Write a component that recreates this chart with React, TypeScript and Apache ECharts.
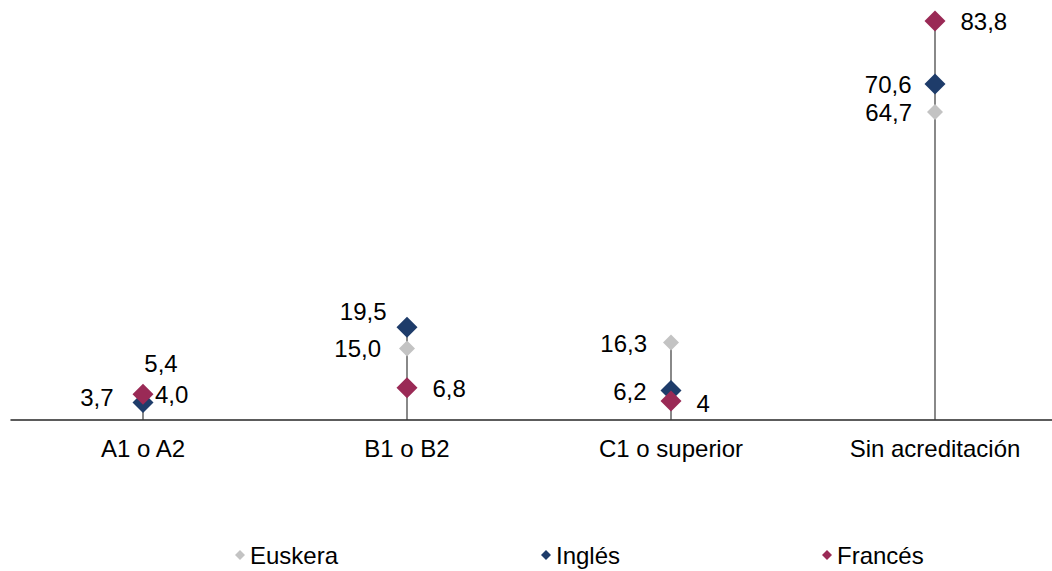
import React, { useEffect, useRef } from "react";
import * as echarts from "echarts";

const categories = ["A1 o A2", "B1 o B2", "C1 o superior", "Sin acreditación"];
const seriesNames = ["Euskera", "Inglés", "Francés"];
const euskera = [4.0, 15.0, 16.3, 64.7];
const ingles = [3.7, 19.5, 6.2, 70.6];
const frances = [5.4, 6.8, 4, 83.8];
const euskeraLabels = ["4,0", "15,0", "16,3", "64,7"];
const inglesLabels = ["3,7", "19,5", "6,2", "70,6"];
const francesLabels = ["5,4", "6,8", "4", "83,8"];

const colors = ["#C3C3C3", "#1E3C6A", "#9A2A56"];
const symbolSizes = [16, 21, 21];

// label placement: [position, distance, dx, dy]
const euskeraPlace: [string, number, number, number][] = [
  ["right", 4, 0, -6],
  ["left", 18, 0, 0],
  ["left", 16, 0, 1],
  ["left", 15, 0, 0],
];
const inglesPlace: [string, number, number, number][] = [
  ["left", 19, 0, -5],
  ["left", 10, 0, -16],
  ["left", 14, 0, 1],
  ["left", 13, 0, 1],
];
const francesPlace: [string, number, number, number][] = [
  ["top", 8, 18, 0],
  ["right", 15, 0, 1],
  ["right", 15, 0, 3],
  ["right", 15, 0, 0],
];

const FONT = "'Liberation Sans', Arial, sans-serif";

export default function App() {
  const ref = useRef<HTMLDivElement>(null);
  useEffect(() => {
    if (!ref.current) return;
    const chart = echarts.init(ref.current, null, { renderer: "svg" });
    const values = [euskera, ingles, frances];
    const labels = [euskeraLabels, inglesLabels, francesLabels];
    const places = [euskeraPlace, inglesPlace, francesPlace];
    const maxes = categories.map((_, i) => Math.max(euskera[i], ingles[i], frances[i]));

    const scatterSeries = seriesNames.map((name, s) => ({
      name,
      type: "scatter",
      symbol: "diamond",
      symbolSize: symbolSizes[s],
      itemStyle: { color: colors[s], opacity: 1 },
      z: 3 + s,
      data: values[s].map((v, i) => {
        const [pos, dist, dx, dy] = places[s][i];
        return {
          value: v,
          label: {
            show: true,
            position: pos,
            distance: dist,
            offset: [dx, dy],
            formatter: labels[s][i],
            fontSize: 24,
            fontFamily: FONT,
            color: "#000",
          },
        };
      }),
    }));

    const legendX = [235, 541, 822];

    chart.setOption({
      animation: false,
      backgroundColor: "#fff",
      grid: { left: 11, width: 1056, top: 15.4, height: 404.6 },
      xAxis: {
        type: "category",
        data: categories,
        axisLine: { lineStyle: { color: "#262626", width: 1.5 } },
        axisTick: { show: false },
        axisLabel: { fontSize: 24, fontFamily: FONT, color: "#000", margin: 16 },
        splitLine: { show: false },
      },
      yAxis: {
        type: "value",
        min: 0,
        max: 85,
        show: false,
        splitLine: { show: false },
      },
      legend: seriesNames.map((name, s) => ({
        data: [{ name, icon: "diamond" }],
        left: legendX[s],
        top: 543,
        padding: 0,
        itemWidth: 10,
        itemHeight: 10,
        textStyle: { fontSize: 24, fontFamily: FONT, color: "#000" },
      })),
      series: [
        {
          type: "custom",
          name: "lines",
          z: 1,
          silent: true,
          data: maxes.map((m, i) => [i, m]),
          renderItem: (params: any, api: any) => {
            const i = api.value(0);
            const p0 = api.coord([i, 0]);
            const p1 = api.coord([i, api.value(1)]);
            return {
              type: "line",
              shape: { x1: p0[0], y1: p0[1], x2: p1[0], y2: p1[1] },
              style: { stroke: "#3A3A3A", lineWidth: 1.2 },
            };
          },
        },
        ...scatterSeries,
      ],
    });
    return () => chart.dispose();
  }, []);
  return (
    <div style={{ position: "absolute", left: 0, top: 0, width: 1052, height: 571, overflow: "hidden" }}>
      <div ref={ref} style={{ width: 1080, height: 571 }} />
    </div>
  );
}
